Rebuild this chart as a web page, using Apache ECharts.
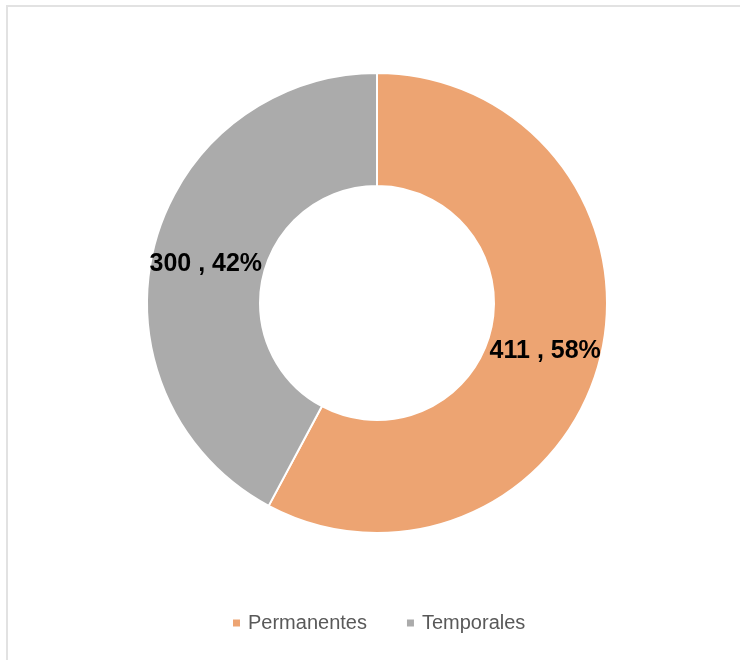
<!DOCTYPE html>
<html>
<head>
<meta charset="utf-8">
<script src="https://cdn.jsdelivr.net/npm/echarts@6/dist/echarts.min.js"></script>
<style>
  html, body { margin: 0; padding: 0; background: #fff; }
  #chart { width: 740px; height: 660px; }
</style>
</head>
<body>
<div id="chart"></div>
<script>
// datos del gráfico
const categorias = ['Permanentes', 'Temporales'];
const valores = [411, 300];
const colores = ['#EDA472', '#ABABAB'];

const total = valores.reduce((a, b) => a + b, 0);

let myChart = echarts.init(document.getElementById('chart'));
let option = {
  animation: false,
  color: colores,
  graphic: [
    {
      type: 'rect',
      shape: { x: 7, y: 6, width: 760, height: 680 },
      style: { fill: 'none', stroke: '#e2e2e2', lineWidth: 2 },
      silent: true
    }
  ],
  legend: {
    bottom: 22,
    left: 226,
    itemWidth: 9,
    itemHeight: 9,
    itemGap: 38,
    icon: 'rect',
    textStyle: {
      fontFamily: 'Liberation Sans',
      fontSize: 20,
      color: '#595959',
      padding: [0, 0, 0, 2]
    },
    data: categorias
  },
  series: [
    {
      type: 'pie',
      center: [377, 303],
      radius: [117, 230],
      startAngle: 90,
      clockwise: true,
      itemStyle: { borderColor: '#fff', borderWidth: 2 },
      label: {
        show: true,
        position: 'inside',
        fontFamily: 'Liberation Sans',
        fontWeight: 'bold',
        fontSize: 25,
        color: '#000',
        // valor , porcentaje
        formatter: p => p.value + ' , ' + Math.round(p.value / total * 100) + '%'
      },
      labelLine: { show: false },
      emphasis: { disabled: true },
      data: categorias.map((c, i) => ({
        name: c,
        value: valores[i],
        label: { offset: i === 0 ? [-3, 5] : [0, 4] }
      }))
    }
  ]
};
myChart.setOption(option);
</script>
</body>
</html>
